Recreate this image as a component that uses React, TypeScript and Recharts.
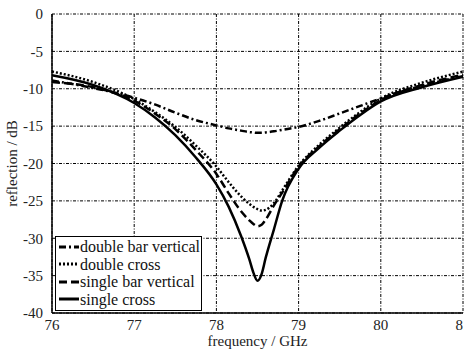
import React from 'react';
import { LineChart, Line, XAxis, YAxis, CartesianGrid, Legend } from 'recharts';

// frequency samples (GHz) and reflection values (dB)
const freqs = [76, 76.5, 77, 77.25, 77.5, 77.75, 78, 78.15, 78.3, 78.4, 78.45, 78.5, 78.55, 78.6, 78.7, 78.8, 79, 79.25, 79.5, 79.75, 80, 80.5, 81];
const doubleBarVertical = [-8.9, -9.9, -11.2, -12.1, -13.2, -14.2, -14.9, -15.3, -15.6, -15.8, -15.85, -15.9, -15.9, -15.85, -15.7, -15.5, -15.1, -14.3, -13.3, -12.3, -11.3, -9.6, -8.3];
const doubleCross = [-7.7, -9.1, -11.4, -13.1, -15.1, -17.6, -20.4, -22.5, -24.4, -25.4, -25.8, -26.1, -26.3, -26.2, -25.3, -23.6, -20.3, -17.5, -15.2, -13.1, -11.3, -9.2, -7.7];
const singleBarVertical = [-9.1, -9.8, -11.6, -13.3, -15.4, -18.2, -21.4, -24.0, -26.4, -27.6, -28.1, -28.4, -28.2, -27.5, -25.6, -23.9, -20.4, -17.7, -15.4, -13.3, -11.5, -9.5, -8.1];
const singleCross = [-8.2, -9.5, -11.9, -13.8, -16.2, -19.2, -22.8, -25.8, -29.7, -32.8, -34.6, -35.7, -34.8, -32.6, -28.8, -25.0, -20.7, -17.9, -15.6, -13.5, -11.7, -9.8, -8.4];

const xTicks = [76, 77, 78, 79, 80, 81];
const yTicks = [0, -5, -10, -15, -20, -25, -30, -35, -40];

const series = [
  { key: 'dbv', name: 'double bar vertical', dash: '7 3 2 3' },
  { key: 'dc', name: 'double cross', dash: '2 2' },
  { key: 'sbv', name: 'single bar vertical', dash: '8 4' },
  { key: 'sc', name: 'single cross', dash: undefined },
];

const data = freqs.map((f, i) => ({
  f,
  dbv: doubleBarVertical[i],
  dc: doubleCross[i],
  sbv: singleBarVertical[i],
  sc: singleCross[i],
}));

const font = '"Liberation Serif", "Times New Roman", Times, serif';

const LegendBox = () => (
  <div
    style={{
      border: '1.5px solid #000',
      background: '#fff',
      padding: '1px 4px 2px 3px',
      fontFamily: font,
      fontSize: 16,
      lineHeight: '17.5px',
      color: '#111',
      width: 147,
      boxSizing: 'border-box',
    }}
  >
    {series.map((s) => (
      <div key={s.key} style={{ display: 'flex', alignItems: 'center', whiteSpace: 'nowrap' }}>
        <svg width={20} height={10} style={{ marginRight: 1, flexShrink: 0 }}>
          <line x1={0} y1={5} x2={20} y2={5} stroke="#000" strokeWidth={3} strokeDasharray={s.dash} />
        </svg>
        <span>{s.name}</span>
      </div>
    ))}
  </div>
);

const tickStyle = { fill: '#222', fontSize: 15, fontFamily: font };

export default function App() {
  return (
    <div style={{ position: 'absolute', left: 0, top: 0, width: 464, height: 349, overflow: 'hidden', background: '#fff' }}>
      <LineChart width={464} height={349} data={data} margin={{ top: 14, right: 1, left: 0, bottom: 0 }}>
        <CartesianGrid stroke="#000" strokeWidth={1} strokeDasharray="3 1.5 1 1.5" horizontalValues={yTicks} verticalValues={xTicks} />
        <XAxis
          dataKey="f"
          type="number"
          domain={[76, 81]}
          ticks={xTicks}
          interval={0}
          height={36}
          tickLine={false}
          axisLine={{ stroke: '#000', strokeWidth: 1.5 }}
          tick={tickStyle}
          tickMargin={0}
          label={{ value: 'frequency / GHz', position: 'insideBottom', offset: 3, style: { fill: '#222', fontSize: 15, fontFamily: font } }}
        />
        <YAxis
          type="number"
          domain={[-40, 0]}
          ticks={yTicks}
          interval={0}
          width={52}
          tickLine={false}
          axisLine={{ stroke: '#000', strokeWidth: 1.5 }}
          tick={tickStyle}
          tickMargin={3}
          label={{ value: 'reflection / dB', angle: -90, position: 'insideLeft', offset: 12, style: { textAnchor: 'middle', fill: '#222', fontSize: 15, fontFamily: font } }}
        />
        <Legend
          layout="vertical"
          align="center"
          verticalAlign="middle"
          content={<LegendBox />}
          wrapperStyle={{ position: 'absolute', left: 55, top: 236, width: 'auto', bottom: 'auto' }}
        />
        {series.map((s) => (
          <Line
            key={s.key}
            dataKey={s.key}
            name={s.name}
            type="monotone"
            stroke="#000"
            strokeWidth={2.5}
            strokeDasharray={s.dash}
            dot={false}
            isAnimationActive={false}
          />
        ))}
      </LineChart>
    </div>
  );
}
